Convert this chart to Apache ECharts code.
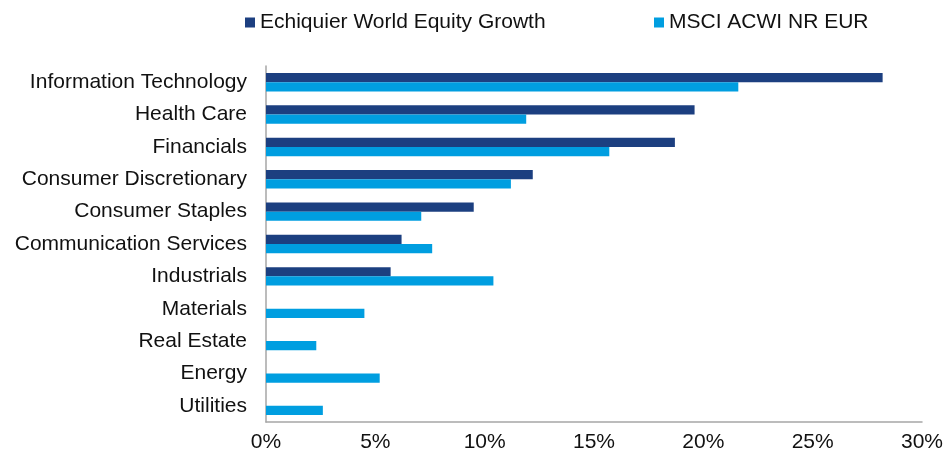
<!DOCTYPE html>
<html>
<head>
<meta charset="utf-8">
<script src="https://cdn.jsdelivr.net/npm/echarts@6/dist/echarts.min.js"></script>
<style>
html,body{margin:0;padding:0;background:#fff;}
#chart{width:946px;height:456px;}
</style>
</head>
<body>
<div id="chart"></div>
<script>
var categories = ['Information Technology','Health Care','Financials','Consumer Discretionary','Consumer Staples','Communication Services','Industrials','Materials','Real Estate','Energy','Utilities'];
var fundValues = [28.2, 19.6, 18.7, 12.2, 9.5, 6.2, 5.7, null, null, null, null];
var indexValues = [21.6, 11.9, 15.7, 11.2, 7.1, 7.6, 10.4, 4.5, 2.3, 5.2, 2.6];
var tickValues = [0, 5, 10, 15, 20, 25, 30];

var font = 'Liberation Sans, Arial, sans-serif';
var myChart = echarts.init(document.getElementById('chart'));
var option = {
    animation: false,
    color: ['#1C3F80', '#009EE0'],
    legend: [
        {
            left: 240, top: 7,
            itemWidth: 10, itemHeight: 10,
            icon: 'rect',
            textStyle: { fontFamily: font, fontSize: 21, color: '#111' },
            data: ['Echiquier World Equity Growth']
        },
        {
            left: 649, top: 7,
            itemWidth: 10, itemHeight: 10,
            icon: 'rect',
            textStyle: { fontFamily: font, fontSize: 21, color: '#111' },
            data: ['MSCI ACWI NR EUR']
        }
    ],
    grid: { left: 266, right: 24, top: 66, bottom: 34, containLabel: false },
    xAxis: {
        type: 'value',
        min: tickValues[0],
        max: tickValues[tickValues.length - 1],
        interval: 5,
        axisLine: { show: true, lineStyle: { color: '#A6A6A6', width: 1.5 } },
        axisTick: { show: false },
        splitLine: { show: false },
        axisLabel: {
            margin: 10,
            fontFamily: font, fontSize: 21, color: '#111',
            formatter: function (v) { return v + '%'; }
        }
    },
    yAxis: {
        type: 'category',
        inverse: true,
        data: categories,
        axisLine: { show: true, lineStyle: { color: '#A6A6A6', width: 1.5 } },
        axisTick: { show: false },
        axisLabel: { margin: 19, fontFamily: font, fontSize: 21, color: '#111' }
    },
    series: [
        {
            name: 'Echiquier World Equity Growth',
            type: 'bar',
            barGap: '0%',
            barCategoryGap: '43%',
            data: fundValues
        },
        {
            name: 'MSCI ACWI NR EUR',
            type: 'bar',
            barGap: '0%',
            barCategoryGap: '43%',
            data: indexValues
        }
    ]
};
myChart.setOption(option);
</script>
</body>
</html>
